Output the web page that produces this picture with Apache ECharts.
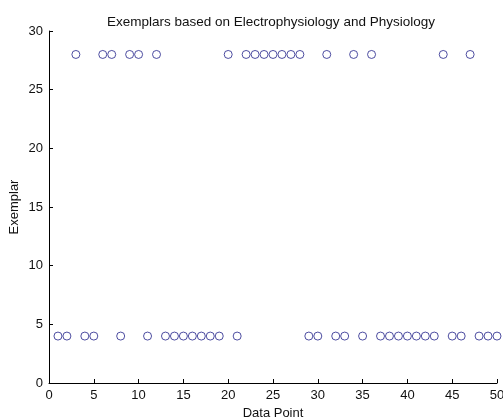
<!DOCTYPE html>
<html>
<head>
<meta charset="utf-8">
<script src="https://cdn.jsdelivr.net/npm/echarts@6/dist/echarts.min.js"></script>
<style>
  html, body { margin: 0; padding: 0; background: #fff; }
  #chart { width: 503px; height: 419px; }
</style>
</head>
<body>
<div id="chart"></div>
<script>
// data points (index 1..50) and the exemplar each maps to
var dataPoint = [];
for (var i = 1; i <= 50; i++) dataPoint.push(i);
var exemplar = [
  4, 4, 28, 4, 4, 28, 28, 4, 28, 28,
  4, 28, 4, 4, 4, 4, 4, 4, 4, 28,
  4, 28, 28, 28, 28, 28, 28, 28, 4, 4,
  28, 4, 4, 28, 4, 28, 4, 4, 4, 4,
  4, 4, 4, 28, 4, 4, 28, 4, 4, 4
];
var xTicks = [0, 5, 10, 15, 20, 25, 30, 35, 40, 45, 50];
var yTicks = [0, 5, 10, 15, 20, 25, 30];

var points = dataPoint.map(function (x, k) { return [x, exemplar[k]]; });

var chart = echarts.init(document.getElementById('chart'));
var axisFont = { color: '#111', fontFamily: 'Liberation Sans', fontSize: 13 };

chart.setOption({
  animation: false,
  backgroundColor: '#fff',
  title: {
    text: 'Exemplars based on Electrophysiology and Physiology',
    left: 102,
    top: 10,
    textStyle: { color: '#111', fontFamily: 'Liberation Sans', fontSize: 13.5, fontWeight: 'normal' }
  },
  grid: { left: 49, right: 6, top: 31, bottom: 36, containLabel: false, outerBoundsMode: 'none' },
  xAxis: {
    type: 'value',
    min: xTicks[0],
    max: xTicks[xTicks.length - 1],
    interval: 5,
    name: 'Data Point',
    nameLocation: 'middle',
    nameGap: 24,
    nameMoveOverlap: false,
    nameTextStyle: axisFont,
    axisLine: { lineStyle: { color: '#000', width: 1 } },
    axisTick: { inside: true, length: 4, lineStyle: { color: '#000' } },
    axisLabel: Object.assign({ margin: 6 }, axisFont),
    splitLine: { show: false }
  },
  yAxis: {
    type: 'value',
    min: yTicks[0],
    max: yTicks[yTicks.length - 1],
    interval: 5,
    name: 'Exemplar',
    nameLocation: 'middle',
    nameGap: 28,
    nameMoveOverlap: false,
    nameTextStyle: axisFont,
    axisLine: { lineStyle: { color: '#000', width: 1 } },
    axisTick: { inside: true, length: 4, lineStyle: { color: '#000' } },
    axisLabel: Object.assign({ margin: 6 }, axisFont),
    splitLine: { show: false }
  },
  series: [{
    type: 'scatter',
    data: points,
    symbol: 'circle',
    symbolSize: 8,
    itemStyle: { color: 'rgba(0,0,0,0)', borderColor: '#22228a', borderWidth: 1 }
  }]
});
</script>
</body>
</html>
